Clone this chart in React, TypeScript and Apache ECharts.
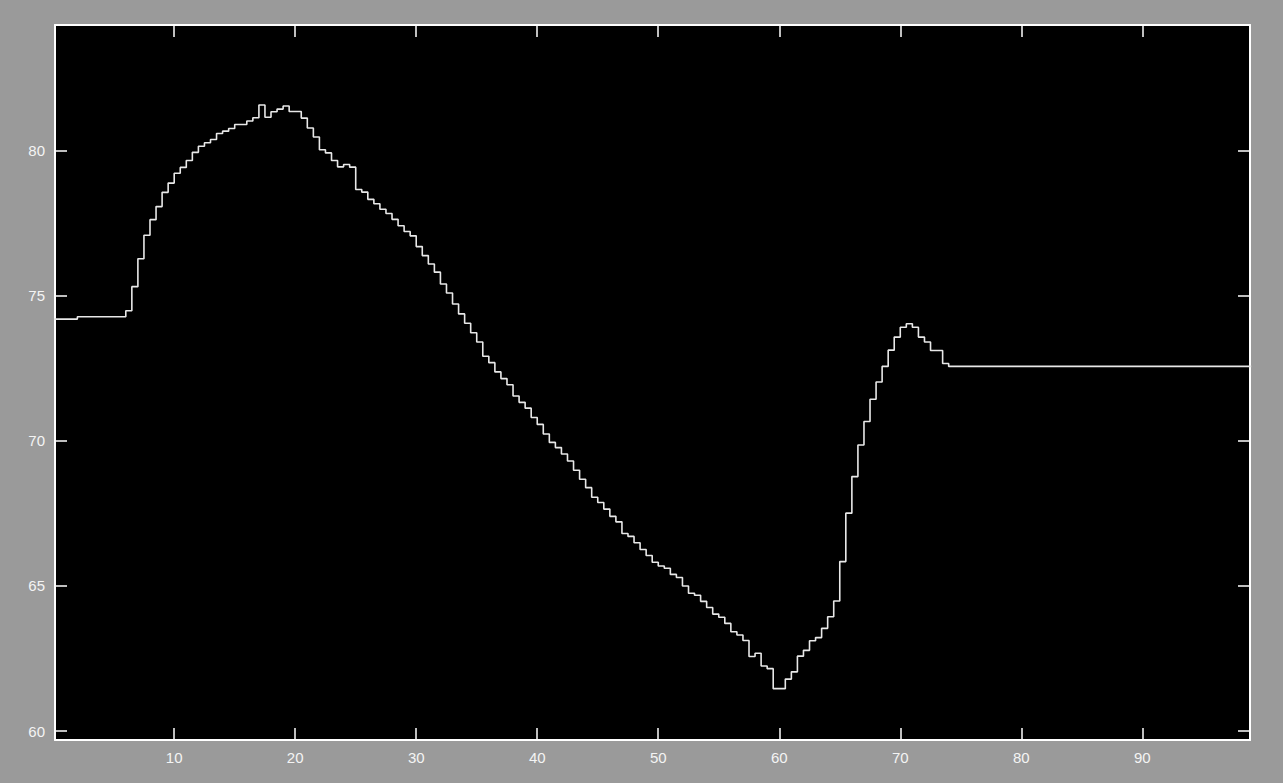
import React, { useEffect, useRef } from "react";
import * as echarts from "echarts";

// sampling period of the staircase signal (seconds)
const SAMPLE_PERIOD = 0.5;

// values, one per 0.5 s sample (held until the next sample)
const riseValues = [
  74.2, 74.2, 74.2, 74.2, 74.28, 74.28, 74.28, 74.28, 74.28, 74.28, 74.28, 74.28,
  74.49, 75.32, 76.28, 77.09, 77.63, 78.08, 78.57, 78.89, 79.23, 79.43, 79.67, 79.95,
  80.16, 80.28, 80.39, 80.6, 80.68, 80.77, 80.91, 80.91, 81.03, 81.14, 81.58, 81.16,
  81.35, 81.44, 81.55, 81.36, 81.36, 81.13,
];
const fallValues = [
  80.79, 80.48, 80.04, 79.93, 79.67, 79.45, 79.53, 79.44, 78.67, 78.58, 78.33, 78.18,
  77.99, 77.84, 77.64, 77.42, 77.22, 77.07, 76.7, 76.39, 76.1, 75.82, 75.41, 75.1,
  74.72, 74.38, 74.06, 73.73, 73.41, 72.92, 72.7, 72.38, 72.15, 71.94, 71.55, 71.33,
  71.13, 70.81, 70.57, 70.24, 69.95, 69.77, 69.55, 69.31, 68.99, 68.68, 68.39, 68.06,
  67.88, 67.65, 67.4, 67.21, 66.81, 66.71, 66.49, 66.26, 66.05, 65.82, 65.69, 65.61,
  65.4, 65.29, 65.0, 64.75, 64.68, 64.47, 64.26, 64.03, 63.92, 63.71, 63.42, 63.31,
  63.12, 62.57, 62.68, 62.24, 62.15, 61.46, 61.46,
];
const recoveryValues = [
  61.79, 62.04, 62.58, 62.78, 63.11, 63.22, 63.54, 63.94, 64.48, 65.84, 67.51, 68.77,
  69.86, 70.67, 71.44, 72.03, 72.57, 73.13, 73.58, 73.92, 74.04, 73.92, 73.58, 73.41,
  73.12, 73.12, 72.67,
];
const settledValues = [
  72.57, 72.57, 72.57, 72.57, 72.57, 72.57, 72.57, 72.57, 72.57, 72.57,
  72.57, 72.57, 72.57, 72.57, 72.57, 72.57, 72.57, 72.57, 72.57, 72.57,
  72.57, 72.57, 72.57, 72.57, 72.57, 72.57, 72.57, 72.57, 72.57, 72.57,
  72.57, 72.57, 72.57, 72.57, 72.57, 72.57, 72.57, 72.57, 72.57, 72.57,
  72.57, 72.57, 72.57, 72.57, 72.57, 72.57, 72.57, 72.57, 72.57, 72.57,
  72.57,
];

const xTicks = [10, 20, 30, 40, 50, 60, 70, 80, 90];
const yTicks = [60, 65, 70, 75, 80];

const X_MIN = 0.15;
const X_MAX = 98.9;
const Y_MIN = 59.69;
const Y_MAX = 84.34;

export default function App() {
  const ref = useRef<HTMLDivElement>(null);

  useEffect(() => {
    document.body.style.margin = "0";
    const chart = echarts.init(ref.current!, null, { renderer: "svg" });
    const values = [...riseValues, ...fallValues, ...recoveryValues, ...settledValues];
    const data = values.map((v, i) => [i * SAMPLE_PERIOD, v]);

    const lineStyle = { color: "#ffffff", width: 2 };
    const tickStyle = { color: "#ffffff", width: 1.5 };
    const labelStyle = {
      color: "#f4f4f4",
      fontSize: 15,
      fontFamily: "Liberation Sans, Arial, sans-serif",
      margin: 10,
    };

    const xAxisBase = {
      type: "value",
      min: X_MIN,
      max: X_MAX,
      axisLine: { show: true, onZero: false, lineStyle },
      axisTick: { show: true, inside: true, length: 12, customValues: xTicks, lineStyle: tickStyle },
      splitLine: { show: false },
    };
    const yAxisBase = {
      type: "value",
      min: Y_MIN,
      max: Y_MAX,
      axisLine: { show: true, onZero: false, lineStyle },
      axisTick: { show: true, inside: true, length: 12, customValues: yTicks, lineStyle: tickStyle },
      splitLine: { show: false },
    };

    chart.setOption({
      animation: false,
      backgroundColor: "#9a9a9a",
      grid: {
        left: 55,
        top: 25,
        width: 1195,
        height: 715,
        show: true,
        backgroundColor: "#000000",
        borderWidth: 0,
      },
      xAxis: [
        { ...xAxisBase, position: "bottom", axisLabel: { ...labelStyle, customValues: xTicks } },
        { ...xAxisBase, position: "top", axisLabel: { show: false } },
      ],
      yAxis: [
        { ...yAxisBase, position: "left", axisLabel: { ...labelStyle, customValues: yTicks } },
        { ...yAxisBase, position: "right", axisLabel: { show: false } },
      ],
      series: [
        {
          type: "line",
          step: "end",
          xAxisIndex: 0,
          yAxisIndex: 0,
          showSymbol: false,
          symbol: "none",
          lineStyle: { color: "#e8e8e8", width: 1.6 },
          data,
        },
      ],
    });

    return () => chart.dispose();
  }, []);

  return <div ref={ref} style={{ width: 1283, height: 783 }} />;
}
